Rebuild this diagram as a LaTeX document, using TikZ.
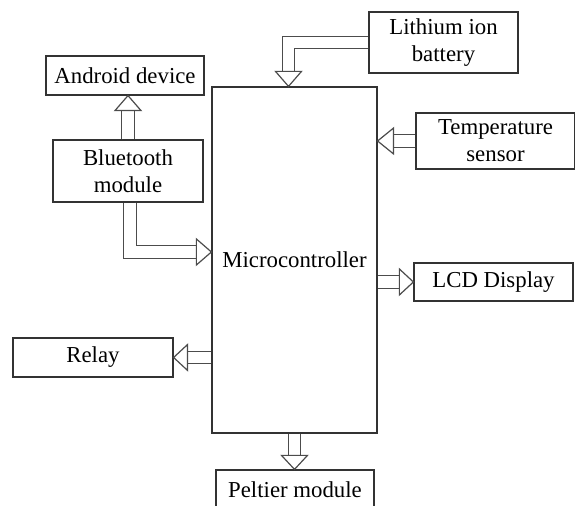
\documentclass[tikz,border=0pt]{standalone}
\usepackage{fontspec}
\setmainfont{Liberation Serif}
\usetikzlibrary{calc}

\begin{document}
\begin{tikzpicture}[x=0.5pt, y=0.5pt,
    box/.style={draw=black!80, line width=0.6pt, inner sep=0pt, align=center,
                font=\fontsize{11.4}{13.5}\selectfont},
    shaft/.style={draw=black!70, line width=0.6pt, double=white, double distance=5.6pt},
    tip/.style={draw=black!70, fill=white, line width=0.6pt, line join=miter,
                to path={($(\tikztostart)!6.5pt!90:(\tikztotarget)$) -- (\tikztotarget)
                         -- ($(\tikztostart)!6.5pt!-90:(\tikztotarget)$) -- cycle}}]
    \useasboundingbox (0,0) rectangle (575,506);

    % Blocks
    \node[box, minimum width=82.5pt, minimum height=173pt] (mc) at (294.5,246) {Microcontroller};
    \node[box, minimum width=74.5pt, minimum height=30.5pt] (battery) at (443.5,463.5) {Lithium ion\\battery};
    \node[box, minimum width=79pt, minimum height=19.5pt] (android) at (125,430.5) {Android device};
    \node[box, minimum width=75pt, minimum height=31pt] (bt) at (128,335) {Bluetooth\\module};
    \node[box, minimum width=79.5pt, minimum height=28pt] (temp) at (495.5,365) {Temperature\\sensor};
    \node[box, minimum width=79.5pt, minimum height=19pt] (lcd) at (493.5,224) {LCD Display};
    \node[box, minimum width=80pt, minimum height=19.5pt] (relay) at (93,148.5) {Relay};
    \node[box, minimum width=79pt, minimum height=19.5pt] (peltier) at (295,16.5) {Peltier module};

    % Entry points on the microcontroller
    \coordinate (batin) at ([xshift=-3pt]mc.north);
    \coordinate (btin) at ([yshift=4pt]mc.west);

    % Battery -> microcontroller
    \draw[shaft] (battery.west) -| ([yshift=7.5pt]batin);
    \draw[tip] ([yshift=7.5pt]batin) to (batin);

    % Bluetooth -> Android device
    \draw[shaft] (bt.north) -- ([yshift=-7.5pt]bt.north |- android.south);
    \draw[tip] ([yshift=-7.5pt]bt.north |- android.south) to (bt.north |- android.south);

    % Bluetooth -> microcontroller
    \draw[shaft] ([xshift=1pt]bt.south) |- ([xshift=-7.5pt]btin);
    \draw[tip] ([xshift=-7.5pt]btin) to (btin);

    % Temperature sensor -> microcontroller
    \draw[shaft] (temp.west) -- ([xshift=8pt]temp.west -| mc.east);
    \draw[tip] ([xshift=8pt]temp.west -| mc.east) to (temp.west -| mc.east);

    % Microcontroller -> LCD
    \draw[shaft] (mc.east |- lcd.west) -- ([xshift=-7pt]lcd.west);
    \draw[tip] ([xshift=-7pt]lcd.west) to (lcd.west);

    % Microcontroller -> relay
    \draw[shaft] (mc.west |- relay.east) -- ([xshift=7pt]relay.east);
    \draw[tip] ([xshift=7pt]relay.east) to (relay.east);

    % Microcontroller -> Peltier
    \draw[shaft] (mc.south) -- ([yshift=7pt]mc.south |- peltier.north);
    \draw[tip] ([yshift=7pt]mc.south |- peltier.north) to (mc.south |- peltier.north);
\end{tikzpicture}
\end{document}
